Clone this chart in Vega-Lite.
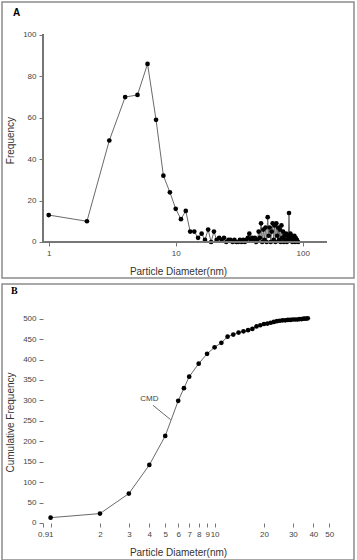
{
  "$schema": "https://vega.github.io/schema/vega-lite/v6.json",
  "padding": {"left": 1, "top": 1, "right": 0, "bottom": 0},
  "spacing": 4,
  "background": "white",
  "config": {
    "font": "Liberation Sans",
    "view": {"stroke": "#8c8c8c", "strokeWidth": 1.5},
    "axis": {"grid": false, "domain": false, "tickColor": "#777", "tickSize": 4, "labelColor": "#444", "labelFontSize": 8, "labelFont": "Liberation Sans", "titleFont": "Liberation Sans", "titleFontSize": 10, "titleFontWeight": "normal", "titleColor": "#333", "labelPadding": 3, "labelOverlap": false, "labelFlush": false}
  },
  "datasets": {
    "freq": [
      {"d": 1, "f": 13}, {"d": 2, "f": 10}, {"d": 3, "f": 49}, {"d": 4, "f": 70}, {"d": 5, "f": 71}, {"d": 6, "f": 86}, {"d": 7, "f": 59}, {"d": 8, "f": 32}, {"d": 9, "f": 24}, {"d": 10, "f": 16}, {"d": 11, "f": 11}, {"d": 12, "f": 15},
      {"d": 13, "f": 5}, {"d": 14, "f": 5}, {"d": 15, "f": 2}, {"d": 16, "f": 4}, {"d": 17, "f": 1}, {"d": 18, "f": 6}, {"d": 19, "f": 0}, {"d": 20, "f": 5}, {"d": 21, "f": 1}, {"d": 22, "f": 2}, {"d": 23, "f": 1}, {"d": 24, "f": 2}, {"d": 25, "f": 0}, {"d": 26, "f": 1}, {"d": 27, "f": 1}, {"d": 28, "f": 0}, {"d": 29, "f": 1}, {"d": 30, "f": 0}, {"d": 31, "f": 0}, {"d": 32, "f": 1}, {"d": 33, "f": 0}, {"d": 34, "f": 1}, {"d": 35, "f": 0}, {"d": 36, "f": 1}, {"d": 37, "f": 2}, {"d": 38, "f": 4}, {"d": 39, "f": 1}, {"d": 40, "f": 2}, {"d": 41, "f": 1}, {"d": 42, "f": 2}, {"d": 43, "f": 0}, {"d": 44, "f": 1}, {"d": 45, "f": 5}, {"d": 46, "f": 2}, {"d": 47, "f": 9}, {"d": 48, "f": 0}, {"d": 49, "f": 6}, {"d": 50, "f": 1}, {"d": 51, "f": 7}, {"d": 52, "f": 0}, {"d": 53, "f": 12}, {"d": 54, "f": 3}, {"d": 55, "f": 7}, {"d": 56, "f": 0}, {"d": 57, "f": 5}, {"d": 58, "f": 9}, {"d": 59, "f": 1}, {"d": 60, "f": 8}, {"d": 61, "f": 0}, {"d": 62, "f": 9}, {"d": 63, "f": 3}, {"d": 64, "f": 7}, {"d": 65, "f": 1}, {"d": 66, "f": 6}, {"d": 67, "f": 0}, {"d": 68, "f": 8}, {"d": 69, "f": 2}, {"d": 70, "f": 5}, {"d": 71, "f": 0}, {"d": 72, "f": 3}, {"d": 73, "f": 1}, {"d": 74, "f": 4}, {"d": 75, "f": 0}, {"d": 76, "f": 3}, {"d": 77, "f": 1}, {"d": 78, "f": 14}, {"d": 79, "f": 2}, {"d": 80, "f": 4}, {"d": 81, "f": 1}, {"d": 82, "f": 3}, {"d": 83, "f": 0}, {"d": 84, "f": 2}, {"d": 85, "f": 1}, {"d": 86, "f": 3}, {"d": 87, "f": 0}, {"d": 88, "f": 2}, {"d": 89, "f": 1}, {"d": 90, "f": 1}, {"d": 92, "f": 0}
    ],
    "cum": [
      {"d": 1, "c": 13}, {"d": 2, "c": 23}, {"d": 3, "c": 72}, {"d": 4, "c": 142}, {"d": 5, "c": 213}, {"d": 6, "c": 299}, {"d": 6.5, "c": 330}, {"d": 7, "c": 358}, {"d": 8, "c": 390}, {"d": 9, "c": 414}, {"d": 10, "c": 430}, {"d": 11, "c": 441}, {"d": 12, "c": 456}, {"d": 13, "c": 461}, {"d": 14, "c": 466}, {"d": 15, "c": 469}, {"d": 16, "c": 472}, {"d": 17, "c": 475}, {"d": 18, "c": 481}, {"d": 19, "c": 484}, {"d": 20, "c": 487}, {"d": 21, "c": 488}, {"d": 22, "c": 490}, {"d": 23, "c": 492}, {"d": 24, "c": 494}, {"d": 25, "c": 495}, {"d": 26, "c": 496}, {"d": 27, "c": 496}, {"d": 28, "c": 497}, {"d": 29, "c": 497}, {"d": 30, "c": 498}, {"d": 31, "c": 498}, {"d": 32, "c": 498}, {"d": 33, "c": 499}, {"d": 34, "c": 499}, {"d": 35, "c": 500}, {"d": 36, "c": 500}, {"d": 37, "c": 501}
    ],
    "cmdLine": [{"d": 4.21, "c": 288}, {"d": 5.39, "c": 253}],
    "cmdText": [{"d": 4.0, "c": 303, "t": "CMD"}]
  },
  "vconcat": [
    {
      "width": 352,
      "height": 276,
      "title": {"text": "A", "anchor": "start", "frame": "group", "offset": -16, "dx": 11, "fontSize": 10, "fontWeight": "bold", "font": "Liberation Sans", "color": "#000"},
      "data": {"name": "freq"},
      "encoding": {
        "x": {"field": "d", "type": "quantitative", "scale": {"type": "log", "domain": [0.4287, 253.5], "nice": false},
              "axis": {"offset": -36, "values": [1, 10, 100], "format": "~g", "title": "Particle Diameter(nm)", "titlePadding": 9, "labelOverlap": false}},
        "y": {"field": "f", "type": "quantitative", "scale": {"domain": [-17.4, 115.9], "nice": false, "zero": false},
              "axis": {"offset": -41, "values": [0, 20, 40, 60, 80, 100], "title": "Frequency", "titlePadding": 7, "labelOverlap": false}}
      },
      "layer": [
        {
          "mark": {"type": "line", "color": "#6a6a6a", "strokeWidth": 1}
        },
        {
          "mark": {"type": "point", "filled": true, "color": "#000", "opacity": 1, "size": 22}
        },
        {
          "mark": {"type": "rule", "color": "#777", "strokeWidth": 1},
          "encoding": {"x": {"datum": 0.9, "type": "quantitative"}, "x2": {"datum": 155}, "y": {"datum": 0, "type": "quantitative"}}
        },
        {
          "mark": {"type": "rule", "color": "#777", "strokeWidth": 1},
          "encoding": {"x": {"datum": 0.9, "type": "quantitative"}, "y": {"datum": 0, "type": "quantitative"}, "y2": {"datum": 100}}
        }
      ]
    },
    {
      "width": 352,
      "height": 276,
      "title": {"text": "B", "anchor": "start", "frame": "group", "offset": -12, "dx": 9, "fontSize": 10, "fontWeight": "bold", "font": "Liberation Serif", "color": "#000"},
      "encoding": {
        "x": {"field": "d", "type": "quantitative", "scale": {"type": "log", "domain": [0.5054, 70.8], "nice": false},
              "axis": {"offset": -37, "values": [0.9, 1, 2, 3, 4, 5, 6, 7, 8, 9, 10, 20, 30, 40, 50], "format": "~g", "title": "Particle Diameter(nm)", "titlePadding": 9, "labelOverlap": false}},
        "y": {"field": "c", "type": "quantitative", "scale": {"domain": [-90.6, 584.9], "nice": false, "zero": false},
              "axis": {"offset": -41, "values": [0, 50, 100, 150, 200, 250, 300, 350, 400, 450, 500], "title": "Cumulative Frequency", "titlePadding": 7, "labelOverlap": false}}
      },
      "layer": [
        {
          "data": {"name": "cum"},
          "mark": {"type": "line", "color": "#6a6a6a", "strokeWidth": 1}
        },
        {
          "data": {"name": "cum"},
          "mark": {"type": "point", "filled": true, "color": "#000", "opacity": 1, "size": 22}
        },
        {
          "data": {"name": "cmdLine"},
          "mark": {"type": "line", "color": "#6a6a6a", "strokeWidth": 1}
        },
        {
          "data": {"name": "cmdText"},
          "mark": {"type": "text", "fontSize": 8, "color": "#444", "font": "Liberation Sans"},
          "encoding": {"text": {"field": "t"}}
        },
        {
          "data": {"values": [{}]},
          "mark": {"type": "rule", "color": "#777", "strokeWidth": 1},
          "encoding": {"x": {"datum": 0.9, "type": "quantitative"}, "x2": {"datum": 50}, "y": {"datum": 0, "type": "quantitative"}}
        },
        {
          "data": {"values": [{}]},
          "mark": {"type": "rule", "color": "#777", "strokeWidth": 1},
          "encoding": {"x": {"datum": 0.9, "type": "quantitative"}, "y": {"datum": 0, "type": "quantitative"}, "y2": {"datum": 500}}
        }
      ]
    }
  ]
}
